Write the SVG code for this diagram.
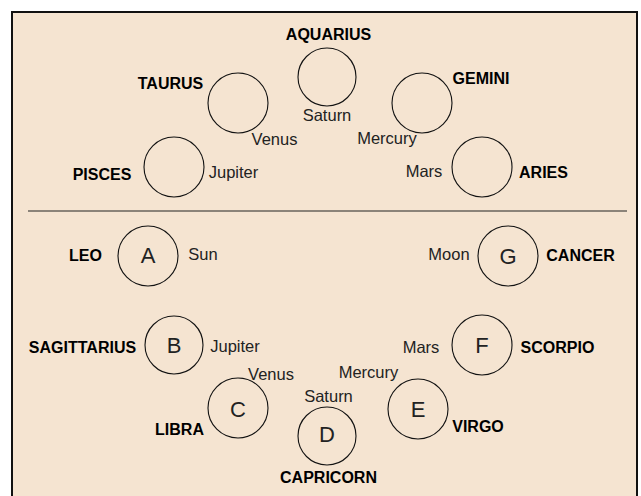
<svg xmlns="http://www.w3.org/2000/svg" width="641" height="496" viewBox="0 0 641 496">
<style>
.ring{fill:none;stroke:#111;stroke-width:1.1}
.sign{font-family:"Liberation Sans",Arial,sans-serif;font-weight:bold;font-size:16px;fill:#000;text-anchor:middle}
.planet{font-family:"Liberation Sans",Arial,sans-serif;font-size:16.5px;fill:#222;text-anchor:middle}
.letter{font-family:"Liberation Sans",Arial,sans-serif;font-size:22px;fill:#222;text-anchor:middle}
</style>
<rect x="0" y="0" width="641" height="496" fill="#fff"/>
<rect id="frame" x="12" y="12" width="625" height="500" fill="#f5e4d1" stroke="#111" stroke-width="2"/>
<line id="divider" x1="28" y1="211" x2="627" y2="211" stroke="#222" stroke-width="1.2"/>
<g id="connectors"/>
<g id="aquarius"><circle class="ring" cx="327" cy="77" r="29"/><text class="sign" x="328.5" y="40">AQUARIUS</text><text class="planet" x="327" y="121">Saturn</text></g>
<g id="taurus"><circle class="ring" cx="238" cy="103" r="30"/><text class="sign" x="170.5" y="89">TAURUS</text><text class="planet" x="274.5" y="145">Venus</text></g>
<g id="pisces"><circle class="ring" cx="174" cy="167" r="30"/><text class="sign" x="102" y="180">PISCES</text><text class="planet" x="233.5" y="178">Jupiter</text></g>
<g id="gemini"><circle class="ring" cx="422" cy="103" r="30"/><text class="sign" x="481" y="84">GEMINI</text><text class="planet" x="387" y="144">Mercury</text></g>
<g id="aries"><circle class="ring" cx="482" cy="167" r="30"/><text class="sign" x="543.5" y="178">ARIES</text><text class="planet" x="424" y="177">Mars</text></g>
<g id="leo"><circle class="ring" cx="148" cy="256" r="30"/><text class="letter" x="148" y="263">A</text><text class="sign" x="85.5" y="261">LEO</text><text class="planet" x="203" y="260">Sun</text></g>
<g id="cancer"><circle class="ring" cx="508" cy="256" r="30"/><text class="letter" x="508" y="264">G</text><text class="sign" x="580.5" y="261">CANCER</text><text class="planet" x="449" y="260">Moon</text></g>
<g id="sagittarius"><circle class="ring" cx="174" cy="345" r="29"/><text class="letter" x="174" y="353">B</text><text class="sign" x="82.5" y="353">SAGITTARIUS</text><text class="planet" x="235" y="352">Jupiter</text></g>
<g id="scorpio"><circle class="ring" cx="482" cy="345" r="30"/><text class="letter" x="482" y="353">F</text><text class="sign" x="557.5" y="353">SCORPIO</text><text class="planet" x="421" y="353">Mars</text></g>
<g id="libra"><circle class="ring" cx="238" cy="408" r="30"/><text class="letter" x="238" y="417">C</text><text class="sign" x="179.5" y="435">LIBRA</text><text class="planet" x="271" y="380">Venus</text></g>
<g id="virgo"><circle class="ring" cx="418" cy="409" r="30"/><text class="letter" x="418" y="417">E</text><text class="sign" x="478" y="432">VIRGO</text><text class="planet" x="368.5" y="378">Mercury</text></g>
<g id="capricorn"><circle class="ring" cx="327" cy="436" r="29"/><text class="letter" x="327" y="442">D</text><text class="sign" x="328.5" y="483">CAPRICORN</text><text class="planet" x="328.5" y="402">Saturn</text></g>
</svg>
